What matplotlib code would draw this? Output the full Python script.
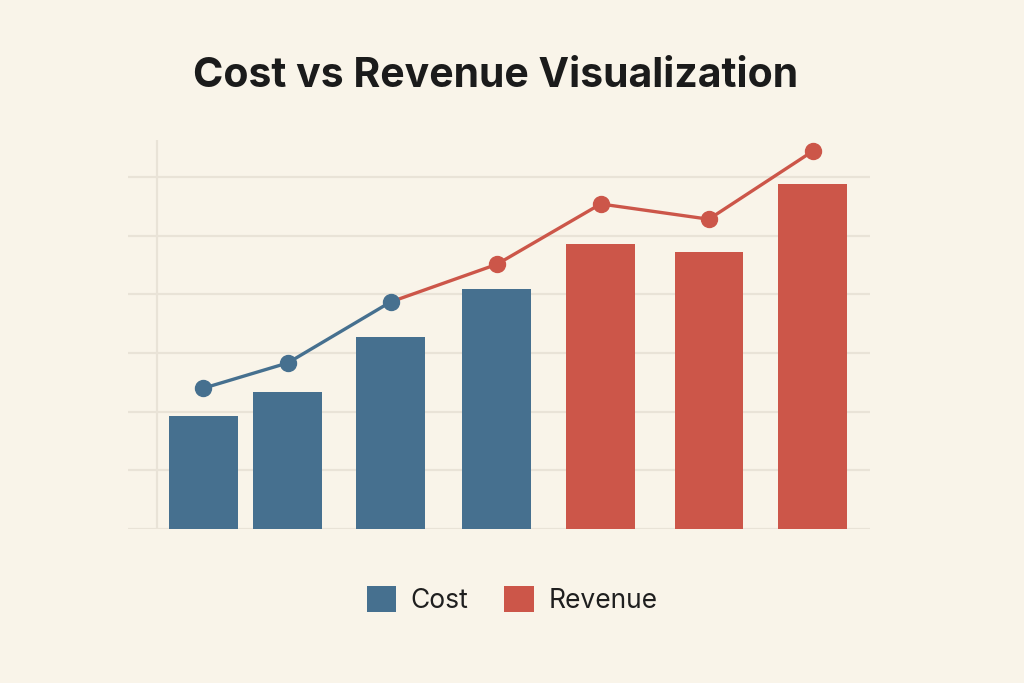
import matplotlib
matplotlib.use("Agg")
import matplotlib.pyplot as plt
from matplotlib.patches import Patch

# data (arbitrary units, gridlines every 10)
categories = ["P1", "P2", "P3", "P4", "P5", "P6", "P7"]
x_pos = [0, 0.81, 1.80, 2.82, 3.82, 4.86, 5.86]
bar_values = [19.3, 23.3, 32.7, 40.9, 48.6, 47.2, 58.8]
bar_series = ["Cost", "Cost", "Cost", "Cost", "Revenue", "Revenue", "Revenue"]
line_values = [24.0, 28.3, 38.7, 45.1, 55.4, 52.8, 64.4]
split_idx = 2  # line changes from cost colour to revenue colour at this point

bg = "#f9f4e9"
blue = "#46708f"
red = "#cc5649"
grid_col = "#e9e3d7"
colors = {"Cost": blue, "Revenue": red}

plt.rcParams["font.family"] = ["Inter", "DejaVu Sans"]

fig = plt.figure(figsize=(10.24, 6.83), dpi=100, facecolor=bg)
ax = fig.add_axes([0.125, 0.2255, 0.7246, 0.5695])
ax.set_facecolor(bg)

# bars
ax.bar(x_pos, bar_values, width=0.66, color=[colors[s] for s in bar_series], zorder=3)

# line: blue part then red part
ax.plot(x_pos[:split_idx + 1], line_values[:split_idx + 1], color=blue, lw=2.4, zorder=4)
ax.plot(x_pos[split_idx:], line_values[split_idx:], color=red, lw=2.4, zorder=4)
ax.plot(x_pos[:split_idx], line_values[:split_idx], "o", color=blue, ms=11.5, zorder=5)
ax.plot(x_pos[split_idx], line_values[split_idx], "o", color=blue, ms=11.5, zorder=6)
ax.plot(x_pos[split_idx + 1:], line_values[split_idx + 1:], "o", color=red, ms=11.5, zorder=5)

# grid
for g in range(0, 70, 10):
    ax.axhline(g, color=grid_col, lw=1.6, zorder=1)
ax.axvline(-0.447, color=grid_col, lw=1.6, zorder=1)

ax.set_xlim(-0.726, 6.41)
ax.set_ylim(0, 66.3)
ax.set_xticks([])
ax.set_yticks([])
for s in ax.spines.values():
    s.set_visible(False)

fig.text(0.4835, 0.888, "Cost vs Revenue Visualization", ha="center", va="center",
         fontsize=29.5, fontweight="bold", color="#1b1b1b")

handles = [Patch(facecolor=blue, label="Cost"), Patch(facecolor=red, label="Revenue")]
fig.legend(handles=handles, loc="center", bbox_to_anchor=(0.5, 0.121), ncol=2,
           frameon=False, fontsize=19, handlelength=1.12, handleheight=1.12,
           handletextpad=0.55, columnspacing=1.35, labelcolor="#1f1f1f")

fig.savefig("out.png", dpi=100, facecolor=bg)
